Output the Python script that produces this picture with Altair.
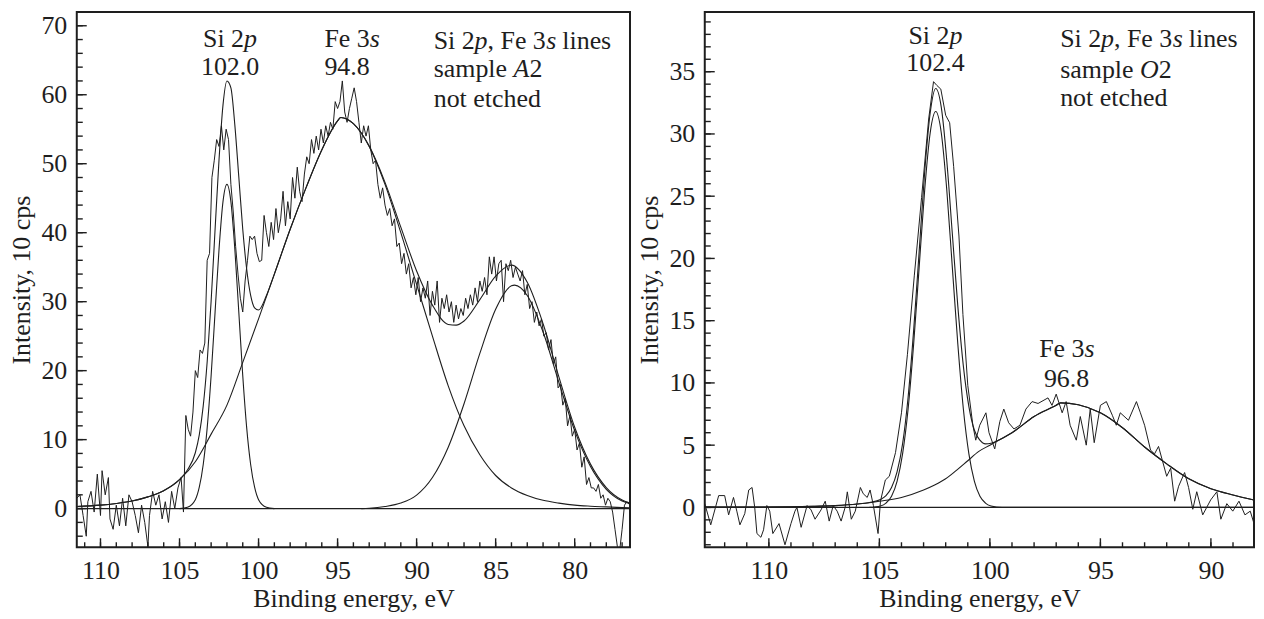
import altair as alt
import pandas as pd

FONT = "Liberation Serif"
FS = 26
INK = "#1e1e1e"

# ---------------- Panel A2 (left) ----------------
A_xdomain = [76.5, 111.5]
A_ydomain = [-5.6, 72.0]
A_x_major = [110, 105, 100, 95, 90, 85, 80]
A_x_minor = list(range(77, 112))
A_y_major = [0, 10, 20, 30, 40, 50, 60, 70]
A_y_minor = list(range(-4, 71, 2))

A_raw = [
    (111.5, 1.5), (111.3, 2.0), (111.1, -1.0), (110.9, -4.0), (110.8, 1.0), (110.6, 2.5),
    (110.4, -0.5), (110.2, 5.0), (110.0, -1.0), (109.9, 5.5), (109.7, 2.0), (109.5, 4.5),
    (109.4, -1.5), (109.2, -3.0), (109.0, 0.5), (108.8, -2.5), (108.6, 1.5), (108.4, -2.5),
    (108.2, 2.0), (108.0, 1.0), (107.8, -1.0), (107.6, -3.5), (107.4, 0.5), (107.2, -2.0),
    (107.0, -5.5), (106.9, -1.0), (106.7, 2.5), (106.5, 0.5), (106.3, 2.0), (106.1, -1.5),
    (105.9, 1.0), (105.7, -2.0), (105.5, 2.5), (105.3, 0.0), (105.1, 3.0), (104.9, 4.5),
    (104.75, -0.5), (104.6, 13.5), (104.45, 11.5), (104.3, 10.5), (104.15, 14.0), (104.0, 20.0),
    (103.85, 19.0), (103.7, 23.0), (103.55, 22.5), (103.4, 24.0), (103.25, 36.0), (103.1, 37.0),
    (102.95, 48.0), (102.8, 50.5), (102.65, 53.5), (102.5, 52.5), (102.35, 55.5), (102.2, 52.0),
    (102.05, 55.0), (101.9, 53.5), (101.75, 47.0), (101.6, 43.0), (101.45, 38.0), (101.3, 34.0),
    (101.15, 30.5), (101.0, 28.5), (100.85, 33.0), (100.7, 36.0), (100.55, 39.5), (100.4, 39.0),
    (100.25, 39.5), (100.1, 37.0), (99.95, 35.8), (99.8, 36.0), (99.65, 42.5), (99.5, 40.0),
    (99.35, 38.0), (99.2, 41.5), (99.05, 39.0), (98.9, 43.5), (98.75, 40.0), (98.6, 42.0),
    (98.45, 46.0), (98.3, 41.0), (98.15, 44.5), (98.0, 42.0), (97.85, 48.0), (97.7, 45.0),
    (97.55, 49.5), (97.4, 46.0), (97.25, 44.5), (97.1, 48.5), (96.95, 51.0), (96.8, 50.0),
    (96.65, 53.5), (96.5, 51.5), (96.35, 54.0), (96.2, 52.0), (96.05, 55.0), (95.9, 53.0),
    (95.75, 55.5), (95.6, 54.0), (95.45, 56.0), (95.3, 55.0), (95.15, 59.0), (95.0, 58.0),
    (94.85, 59.0), (94.7, 62.0), (94.55, 57.5), (94.4, 56.0), (94.25, 58.0), (94.1, 59.5),
    (93.95, 61.0), (93.8, 59.0), (93.65, 56.0), (93.5, 53.0), (93.35, 55.5), (93.2, 54.0),
    (93.05, 55.5), (92.9, 52.0), (92.75, 50.0), (92.6, 50.5), (92.45, 47.0), (92.3, 45.0),
    (92.15, 46.5), (92.0, 44.0), (91.85, 42.5), (91.7, 43.5), (91.55, 41.0), (91.4, 42.0),
    (91.25, 38.0), (91.1, 38.5), (90.95, 35.5), (90.8, 37.0), (90.65, 34.0), (90.5, 35.5),
    (90.35, 32.0), (90.2, 33.5), (90.05, 31.0), (89.9, 33.5), (89.75, 30.0), (89.6, 32.0),
    (89.45, 30.5), (89.3, 33.0), (89.15, 28.0), (89.0, 31.5), (88.85, 29.5), (88.7, 33.0),
    (88.55, 27.0), (88.4, 30.5), (88.25, 29.0), (88.1, 31.0), (87.95, 28.5), (87.8, 30.0),
    (87.65, 27.0), (87.5, 29.5), (87.35, 27.5), (87.2, 29.0), (87.05, 28.0), (86.9, 30.5),
    (86.75, 29.0), (86.6, 31.0), (86.45, 29.5), (86.3, 32.0), (86.15, 30.0), (86.0, 33.0),
    (85.85, 31.5), (85.7, 33.5), (85.55, 31.0), (85.4, 36.5), (85.25, 34.0), (85.1, 36.5),
    (84.95, 33.0), (84.8, 35.5), (84.65, 36.0), (84.5, 30.0), (84.35, 35.5), (84.2, 34.5),
    (84.05, 36.0), (83.9, 33.5), (83.75, 35.0), (83.6, 34.0), (83.45, 33.0), (83.3, 34.5),
    (83.15, 31.0), (83.0, 32.5), (82.85, 29.0), (82.7, 30.0), (82.55, 27.0), (82.4, 28.5),
    (82.25, 26.5), (82.1, 27.5), (81.95, 25.0), (81.8, 25.5), (81.65, 23.0), (81.5, 24.5),
    (81.35, 21.0), (81.2, 22.0), (81.05, 17.5), (80.9, 18.0), (80.75, 15.0), (80.6, 16.0),
    (80.45, 12.0), (80.3, 13.5), (80.15, 10.5), (80.0, 11.5), (79.85, 8.5), (79.7, 9.5),
    (79.55, 6.0), (79.4, 7.5), (79.25, 3.5), (79.1, 4.5), (78.95, 3.0), (78.8, 3.0),
    (78.65, 2.5), (78.5, 3.5), (78.35, 1.5), (78.2, 2.0), (78.05, 0.5), (77.9, 1.5),
    (77.75, 1.0), (77.6, -0.5), (77.45, -3.0), (77.3, -5.5), (77.15, -6.0), (77.0, -3.0),
    (76.85, 0.5), (76.7, 1.0), (76.5, 0.5),
]

A_si = [
    (105.0, 0.0), (104.5, 0.2), (104.0, 1.3), (103.75, 3.1), (103.5, 6.4), (103.25, 11.7),
    (103.0, 19.3), (102.75, 28.5), (102.5, 37.6), (102.25, 44.5), (102.0, 47.0), (101.75, 44.5),
    (101.5, 37.6), (101.25, 28.5), (101.0, 19.3), (100.75, 11.7), (100.5, 6.4), (100.25, 3.1),
    (100.0, 1.3), (99.5, 0.2), (99.0, 0.0),
]

A_fe = [
    (111.5, 0.3), (110.0, 0.5), (109.0, 0.75), (108.0, 1.1), (107.0, 1.7), (106.0, 2.6),
    (105.0, 4.2), (104.0, 6.8), (103.0, 10.8), (102.0, 15.0), (101.0, 21.2), (100.0, 27.5),
    (99.0, 34.0), (98.0, 40.5), (97.0, 46.5), (96.0, 52.0), (95.0, 56.2), (94.8, 56.7),
    (94.0, 55.8), (93.0, 52.5), (92.0, 47.0), (91.0, 40.0), (90.0, 32.5), (89.0, 25.0),
    (88.0, 17.8), (87.0, 12.0), (86.0, 7.8), (85.0, 4.8), (84.0, 3.0), (83.0, 1.9),
    (82.0, 1.2), (81.0, 0.8), (80.0, 0.5), (79.0, 0.35), (78.0, 0.25), (77.0, 0.15), (76.5, 0.1),
]

A_c3 = [
    (93.5, 0.0), (93.0, 0.05), (92.0, 0.3), (91.0, 0.8), (90.0, 1.95), (89.0, 4.5),
    (88.0, 8.9), (87.0, 15.2), (86.0, 22.5), (85.0, 28.9), (84.0, 32.3), (83.8, 32.4),
    (83.0, 30.9), (82.0, 25.6), (81.0, 18.3), (80.0, 11.3), (79.0, 6.1), (78.0, 2.8),
    (77.0, 1.1), (76.5, 0.7),
]

A_env = [
    (111.5, 0.3), (110.0, 0.5), (109.0, 0.75), (108.0, 1.1), (107.0, 1.7), (106.0, 2.6),
    (105.0, 4.2), (104.5, 5.6), (104.0, 8.1), (103.75, 10.7), (103.5, 14.9), (103.25, 21.3),
    (103.0, 30.1), (102.75, 40.5), (102.5, 50.6), (102.25, 58.5), (102.0, 62.0), (101.75, 61.0),
    (101.5, 55.6), (101.25, 48.1), (101.0, 40.5), (100.75, 34.7), (100.5, 30.9), (100.25, 29.1),
    (100.0, 28.8), (99.5, 30.9), (99.0, 34.0), (98.0, 40.5), (97.0, 46.5), (96.0, 52.0),
    (95.0, 56.2), (94.8, 56.7), (94.0, 55.8), (93.0, 52.55), (92.0, 47.3), (91.0, 40.8),
    (90.0, 34.45), (89.0, 29.5), (88.0, 26.7), (87.5, 26.6), (87.0, 27.2), (86.0, 30.3),
    (85.0, 33.7), (84.0, 35.3), (83.0, 32.8), (82.0, 26.8), (81.0, 19.1), (80.0, 11.8),
    (79.0, 6.45), (78.0, 3.05), (77.0, 1.25), (76.5, 0.8),
]

# ---------------- Panel O2 (right) ----------------
B_xdomain = [88.05, 112.9]
B_ydomain = [-3.2, 39.8]
B_x_major = [110, 105, 100, 95, 90]
B_x_minor = list(range(89, 113))
B_y_major = [0, 5, 10, 15, 20, 25, 30, 35]
B_y_minor = list(range(-3, 40))

B_raw = [
    (112.9, 0.3), (112.63, -1.4), (112.27, 0.95), (112.0, 0.95), (111.82, -0.6), (111.6, 0.8),
    (111.45, -0.3), (111.31, -1.4), (111.09, -0.5), (110.91, 1.4), (110.76, 1.6), (110.64, 0.0),
    (110.54, -2.1), (110.36, -2.4), (110.24, -1.8), (110.09, 0.15), (109.96, -0.3), (109.82, -2.1),
    (109.54, -1.3), (109.27, -3.0), (109.0, -1.3), (108.82, -0.3), (108.73, 0.0), (108.54, -1.6),
    (108.27, 0.15), (108.09, -0.2), (107.91, -0.95), (107.64, -0.2), (107.45, 0.5), (107.27, -1.1),
    (107.09, 0.15), (106.91, -0.3), (106.73, -1.1), (106.55, 0.0), (106.45, 1.25), (106.27, -0.95),
    (106.09, -0.3), (105.86, 1.6), (105.73, 1.1), (105.55, 0.8), (105.42, 1.4), (105.27, 0.15),
    (105.06, -2.1), (104.95, 0.5), (104.73, 2.2), (104.55, 2.5), (104.27, 4.4), (104.0, 7.6),
    (103.73, 12.3), (103.42, 18.6), (103.09, 24.9), (102.77, 31.2), (102.55, 34.2), (102.4, 33.9),
    (102.22, 33.6), (102.0, 31.5), (101.82, 30.9), (101.64, 27.4), (101.4, 21.8), (101.22, 15.5),
    (101.0, 9.8), (100.77, 6.6), (100.64, 5.4), (100.46, 6.6), (100.18, 7.6), (100.04, 6.0),
    (99.78, 4.7), (99.55, 6.9), (99.37, 7.9), (99.15, 6.8), (98.91, 6.3), (98.64, 6.6),
    (98.37, 7.9), (98.09, 8.5), (97.82, 8.35), (97.37, 8.8), (97.19, 8.2), (97.0, 9.1),
    (96.73, 7.6), (96.55, 8.5), (96.37, 6.6), (96.09, 5.4), (95.91, 7.3), (95.64, 5.0),
    (95.46, 7.9), (95.28, 5.2), (95.0, 8.2), (94.73, 8.5), (94.46, 7.4), (94.28, 6.6),
    (94.1, 7.6), (93.73, 7.0), (93.37, 8.5), (93.19, 7.6), (93.0, 6.6), (92.73, 4.6),
    (92.55, 4.3), (92.37, 4.9), (92.0, 2.5), (91.82, 3.15), (91.64, 0.5), (91.46, 1.7),
    (91.19, 2.8), (91.01, 1.6), (90.82, -0.15), (90.64, 1.26), (90.37, -0.6), (90.01, 0.6),
    (89.73, 1.26), (89.55, -0.95), (89.28, 0.3), (89.01, -0.3), (88.73, 0.5), (88.46, -0.6),
    (88.22, -0.3), (88.05, -1.3),
]

B_si = [
    (105.45, 0.0), (104.95, 0.12), (104.7, 0.35), (104.45, 0.9), (104.2, 2.1), (103.95, 4.3),
    (103.7, 7.9), (103.45, 13.1), (103.2, 19.3), (102.95, 25.5), (102.7, 30.1), (102.45, 31.8),
    (102.2, 30.1), (101.95, 25.5), (101.7, 19.3), (101.45, 13.1), (101.2, 7.9), (100.95, 4.3),
    (100.7, 2.1), (100.45, 0.9), (100.2, 0.35), (99.95, 0.12), (99.45, 0.0), (88.05, 0.0),
]

B_fe = [
    (112.9, 0.02), (111.0, 0.03), (109.0, 0.05), (108.0, 0.08), (107.0, 0.14), (106.0, 0.27),
    (105.0, 0.5), (104.0, 0.8), (103.0, 1.4), (102.5, 1.8), (102.0, 2.3), (101.5, 3.0),
    (101.0, 3.75), (100.5, 4.5), (100.0, 5.0), (99.5, 5.5), (99.0, 6.0), (98.0, 7.3),
    (97.0, 8.2), (96.8, 8.4), (96.0, 8.25), (95.0, 7.6), (94.0, 6.4), (93.0, 4.85),
    (92.0, 3.5), (91.0, 2.3), (90.0, 1.5), (89.0, 1.0), (88.05, 0.6),
]

B_env = [
    (112.9, 0.02), (111.0, 0.03), (109.0, 0.05), (108.0, 0.08), (107.0, 0.14), (106.0, 0.27),
    (105.45, 0.4), (104.95, 0.64), (104.7, 0.95), (104.45, 1.6), (104.2, 2.85), (103.95, 5.1),
    (103.7, 8.85), (103.45, 14.2), (103.2, 20.55), (102.95, 26.95), (102.7, 31.7), (102.45, 33.65),
    (102.2, 32.15), (101.95, 27.85), (101.7, 22.0), (101.45, 16.15), (101.2, 11.35), (100.95, 8.1),
    (100.7, 6.2), (100.45, 5.4), (100.2, 5.1), (99.95, 5.15), (99.5, 5.5), (99.0, 6.0),
    (98.0, 7.3), (97.0, 8.2), (96.8, 8.4), (96.0, 8.25), (95.0, 7.6), (94.0, 6.4),
    (93.0, 4.85), (92.0, 3.5), (91.0, 2.3), (90.0, 1.5), (89.0, 1.0), (88.05, 0.6),
]

# annotations: (text, eV, intensity, dx px, italic, align)
A_notes = [
    ("Si 2", 101.8, 66.9, 14, False, "right"), ("p", 101.8, 66.9, 14, True, "left"),
    ("102.0", 101.8, 62.9, 0, False, "center"),
    ("Fe 3", 94.1, 66.9, 18, False, "right"), ("s", 94.1, 66.9, 18, True, "left"),
    ("94.8", 94.4, 62.9, 0, False, "center"),
    ("Si 2", 88.92, 66.7, 0, False, "left"), ("p", 88.92, 66.7, 41, True, "left"),
    (",", 88.92, 66.7, 54, False, "left"), ("Fe 3", 88.92, 66.7, 67, False, "left"),
    ("s", 88.92, 66.7, 113, True, "left"), ("lines", 88.92, 66.7, 129, False, "left"),
    ("sample", 88.92, 62.5, 0, False, "left"), ("A", 88.92, 62.5, 80, True, "left"),
    ("2", 88.92, 62.5, 96, False, "left"),
    ("not etched", 88.92, 58.2, 0, False, "left"),
]

B_notes = [
    ("Si 2", 102.46, 37.2, 14, False, "right"), ("p", 102.46, 37.2, 14, True, "left"),
    ("102.4", 102.46, 35.06, 0, False, "center"),
    ("Fe 3", 96.53, 12.06, 18, False, "right"), ("s", 96.53, 12.06, 18, True, "left"),
    ("96.8", 96.53, 9.69, 0, False, "center"),
    ("Si 2", 96.82, 36.96, 0, False, "left"), ("p", 96.82, 36.96, 41, True, "left"),
    (",", 96.82, 36.96, 54, False, "left"), ("Fe 3", 96.82, 36.96, 67, False, "left"),
    ("s", 96.82, 36.96, 113, True, "left"), ("lines", 96.82, 36.96, 129, False, "left"),
    ("sample", 96.82, 34.52, 0, False, "left"), ("O", 96.82, 34.52, 80, True, "left"),
    ("2", 96.82, 34.52, 99, False, "left"),
    ("not etched", 96.82, 32.21, 0, False, "left"),
]

X_TITLE = "Binding energy, eV"
Y_TITLE = "Intensity, 10 cps"


def panel(raw, fits, xdom, ydom, xmaj, xmin, ymaj, ymin, notes, W, H):
    xs = alt.Scale(domain=xdom, reverse=True, nice=False, zero=False)
    ys = alt.Scale(domain=ydom, nice=False, zero=False)
    xaxis = alt.Axis(values=xmaj, format="d", labelPadding=10, titlePadding=2,
                     ticks=False, tickSize=0, domain=False, grid=False,
                     labelFlush=False, labelOverlap=False)
    yaxis = alt.Axis(values=ymaj, format="d", labelPadding=10, titlePadding=6,
                     ticks=False, tickSize=0, domain=False, grid=False,
                     labelFlush=False, labelOverlap=False)

    def X(f):
        return alt.X(f, scale=xs, axis=xaxis, title=X_TITLE)

    def Y(f):
        return alt.Y(f, scale=ys, axis=yaxis, title=Y_TITLE)

    raw_df = pd.DataFrame(raw, columns=["ev", "v"])
    layers = [
        alt.Chart(raw_df).mark_line(color=INK, strokeWidth=1.0, clip=True).encode(
            x=X("ev:Q"), y=Y("v:Q"),
        )
    ]
    frames = []
    for name, pts in fits:
        d = pd.DataFrame(pts, columns=["ev", "v"])
        d["curve"] = name
        frames.append(d)
    fit_df = pd.concat(frames, ignore_index=True)
    layers.append(
        alt.Chart(fit_df).mark_line(color=INK, strokeWidth=1.1, interpolate="monotone", clip=True).encode(
            x=X("ev:Q"), y=Y("v:Q"), detail="curve:N",
        )
    )
    layers.append(
        alt.Chart(pd.DataFrame({"v": [0]})).mark_rule(color=INK, strokeWidth=1.1).encode(
            y=Y("v:Q")
        )
    )
    # inward ticks
    for vals, ln in ((xmaj, 9), (xmin, 5)):
        layers.append(
            alt.Chart(pd.DataFrame({"ev": vals})).mark_rule(color=INK, strokeWidth=1.4).encode(
                x=X("ev:Q"), y=alt.value(H), y2=alt.value(H - ln),
            )
        )
    for vals, ln in ((ymaj, 10), (ymin, 6)):
        layers.append(
            alt.Chart(pd.DataFrame({"v": vals})).mark_rule(color=INK, strokeWidth=1.4).encode(
                y=Y("v:Q"), x=alt.value(0), x2=alt.value(ln),
            )
        )
    for text, ev, v, dx, ital, align in notes:
        layers.append(
            alt.Chart(pd.DataFrame({"ev": [ev], "v": [v], "s": [text]})).mark_text(
                font=FONT, fontSize=FS, fontStyle="italic" if ital else "normal",
                align=align, baseline="alphabetic", dx=dx, color=INK,
            ).encode(
                x=X("ev:Q"), y=Y("v:Q"), text="s:N",
            )
        )
    return alt.layer(*layers).properties(width=W, height=H)


left = panel(A_raw, [("si", A_si), ("fe", A_fe), ("c3", A_c3), ("env", A_env)],
             A_xdomain, A_ydomain, A_x_major, A_x_minor, A_y_major, A_y_minor, A_notes, 555, 537)
right = panel(B_raw, [("si", B_si), ("fe", B_fe), ("env", B_env)],
              B_xdomain, B_ydomain, B_x_major, B_x_minor, B_y_major, B_y_minor, B_notes, 551, 537)

chart = alt.hconcat(left, right, spacing=4).properties(
    padding={"left": 0, "top": 2, "right": 0, "bottom": 0},
    background="white",
).configure_view(
    stroke=INK, strokeWidth=2
).configure_axis(
    labelFont=FONT, labelFontSize=FS, labelColor=INK,
    titleFont=FONT, titleFontSize=FS, titleColor=INK, titleFontWeight="normal",
)

chart.save("out.html", embed_options={"renderer": "svg", "actions": False})
